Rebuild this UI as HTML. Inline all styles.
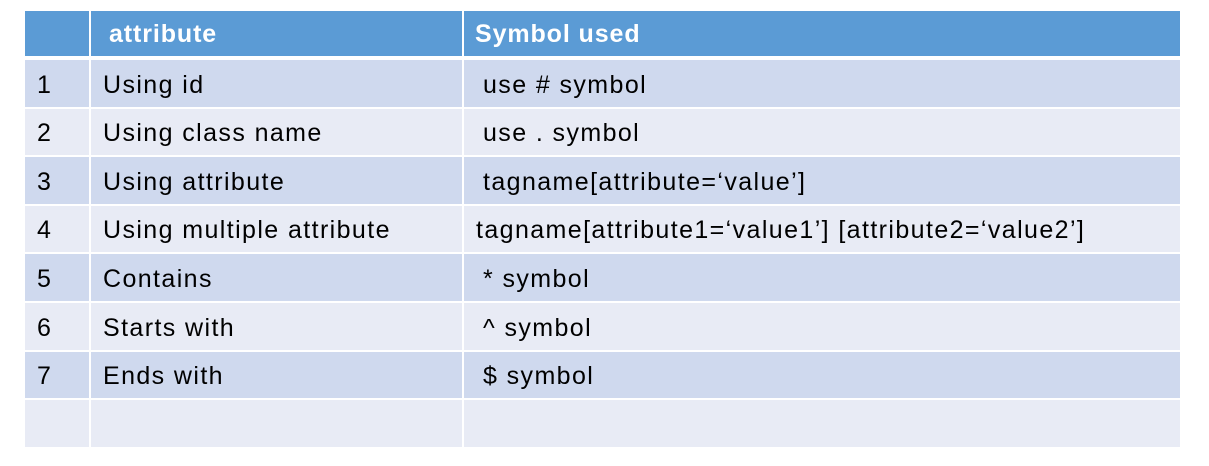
<!DOCTYPE html>
<html><head><style>
body{margin:0;width:1209px;height:466px;background:#fff;position:relative;font-family:"Liberation Sans",sans-serif;overflow:hidden}
.c{position:absolute;box-sizing:border-box;font-size:25px;letter-spacing:1.4px;color:#000;line-height:1;display:flex;align-items:center;white-space:nowrap;padding-top:3px}
.h{background:#5B9BD5;color:#fff;font-weight:bold;letter-spacing:0.9px;padding-top:1px}
.o{background:#CFD9EE}
.e{background:#E8EBF5}
</style></head><body>
<div class="c h" style="left:25px;top:11px;width:64px;height:45px"></div>
<div class="c h" style="left:91px;top:11px;width:371px;height:45px;padding-left:18px">attribute</div>
<div class="c h" style="left:464px;top:11px;width:716px;height:45px;padding-left:11px">Symbol used</div>
<div id="rows"></div>
<script>
var d=[["1","Using id"," use # symbol"],["2","Using class name"," use . symbol"],["3","Using attribute"," tagname[attribute=‘value’]"],["4","Using multiple attribute","tagname[attribute1=‘value1’] [attribute2=‘value2’]"],["5","Contains"," * symbol"],["6","Starts with"," ^ symbol"],["7","Ends with"," $ symbol"],["","",""]];
var h="";
for(var i=0;i<8;i++){
 var t=Math.round(60+i*48.6), b=Math.round(60+(i+1)*48.6)-2;
 var cl=i%2==0?"o":"e";
 var x3=d[i][2].charAt(0)==" "?19:12;
 h+='<div class="c '+cl+'" style="left:25px;top:'+t+'px;width:64px;height:'+(b-t)+'px;padding-left:12px">'+d[i][0]+'</div>';
 h+='<div class="c '+cl+'" style="left:91px;top:'+t+'px;width:371px;height:'+(b-t)+'px;padding-left:12px">'+d[i][1]+'</div>';
 h+='<div class="c '+cl+'" style="left:464px;top:'+t+'px;width:716px;height:'+(b-t)+'px;padding-left:'+x3+'px">'+d[i][2].trim()+'</div>';
}
document.getElementById("rows").outerHTML=h;
</script>
</body></html>
